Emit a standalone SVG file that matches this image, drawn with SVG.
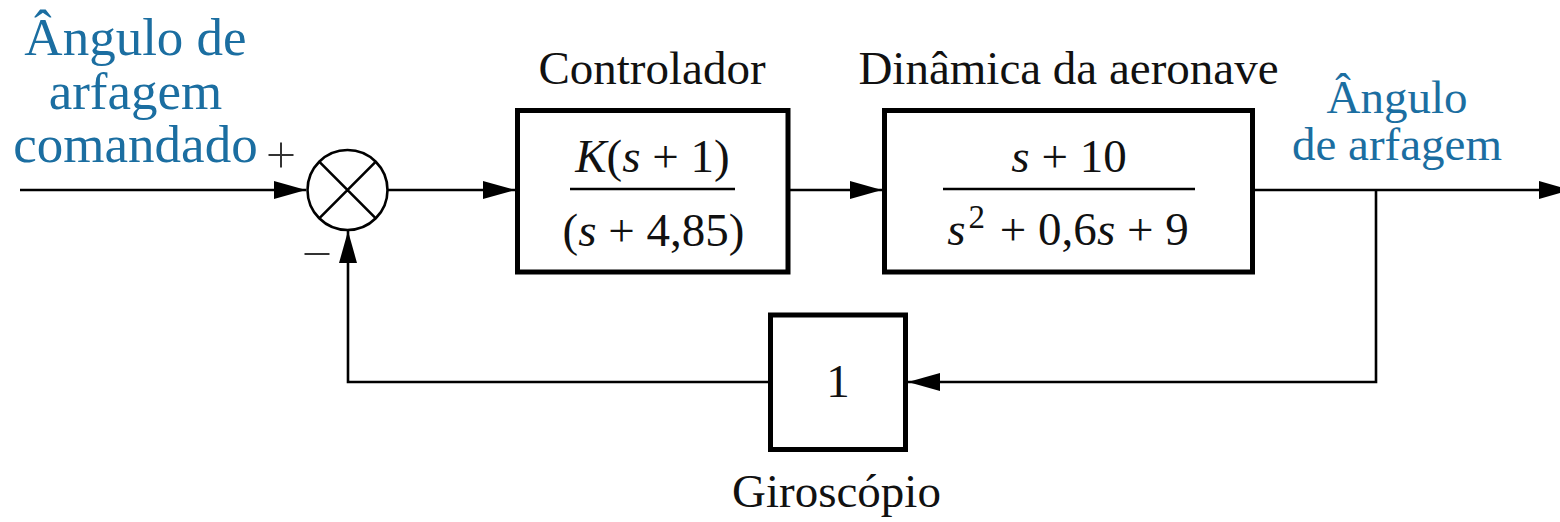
<svg xmlns="http://www.w3.org/2000/svg" width="1560" height="522" viewBox="0 0 1560 522">
<style>
.box{fill:#fff;stroke:#000;stroke-width:5}
.ln{fill:none;stroke:#000;stroke-width:2.6}
.t{font-family:"Liberation Serif","Times New Roman",serif;fill:#111;font-size:47px}
.blue{font-family:"Liberation Serif","Times New Roman",serif;fill:#1b6ea1}
.m{font-family:"Liberation Serif","Times New Roman",serif;fill:#111;font-size:47px}
.i{font-style:italic}
</style>
<defs>
<marker id="ah" viewBox="0 0 32 18" refX="32" refY="9" markerWidth="32" markerHeight="18" markerUnits="userSpaceOnUse" orient="auto">
<path d="M0,0 L32,9 L0,18 z" fill="#000"/>
</marker>
</defs>
<rect width="1560" height="522" fill="#fff"/>

<g id="connectors">
<path class="ln" d="M20,190 H306" marker-end="url(#ah)"/>
<path class="ln" d="M387.5,190 H515" marker-end="url(#ah)"/>
<path class="ln" d="M788,190 H882" marker-end="url(#ah)"/>
<path class="ln" d="M1252.5,190 H1571" marker-end="url(#ah)"/>
<path class="ln" d="M1376,190 V382 H908" marker-end="url(#ah)"/>
<path class="ln" d="M770.5,382 H348 V231" marker-end="url(#ah)"/>
</g>

<g id="input-label">
<text class="blue" font-size="53" text-anchor="middle" x="135.5" y="55">Ângulo de</text>
<text class="blue" font-size="53" text-anchor="middle" x="135.5" y="108.5">arfagem</text>
<text class="blue" font-size="53" text-anchor="middle" x="135.5" y="162">comandado</text>
</g>

<g id="sum">
<circle cx="347.5" cy="190" r="40" fill="#fff" stroke="#000" stroke-width="2.6"/>
<path class="ln" d="M319.2,161.7 L375.8,218.3 M375.8,161.7 L319.2,218.3"/>
<path d="M268.5,155 H293.5 M281,142.5 V167.5" stroke="#333" stroke-width="2" fill="none"/>
<path d="M304.5,254 H329.5" stroke="#333" stroke-width="2" fill="none"/>
</g>

<g id="controlador">
<text class="t" text-anchor="middle" x="652" y="84">Controlador</text>
<rect class="box" x="517.5" y="110.5" width="270.5" height="161.5"/>
<line x1="570" y1="189" x2="735" y2="189" stroke="#000" stroke-width="2.6"/>
<text class="m" text-anchor="middle" x="652.5" y="172"><tspan class="i">K</tspan>(<tspan class="i">s</tspan> + 1)</text>
<text class="m" text-anchor="middle" x="653.5" y="246">(<tspan class="i">s</tspan> + 4,85)</text>
</g>

<g id="dinamica">
<text class="t" text-anchor="middle" x="1068.5" y="84">Dinâmica da aeronave</text>
<rect class="box" x="884.5" y="110.5" width="368" height="161.5"/>
<line x1="943" y1="189" x2="1195" y2="189" stroke="#000" stroke-width="2.6"/>
<text class="m" text-anchor="middle" x="1069" y="172"><tspan class="i">s</tspan> + 10</text>
<text class="m" text-anchor="middle" x="1068" y="245"><tspan class="i">s</tspan><tspan font-size="33" dy="-17" dx="3">2</tspan><tspan dy="17" dx="3"> + 0,6</tspan><tspan class="i">s</tspan> + 9</text>
</g>

<g id="output-label">
<text class="blue" font-size="47" text-anchor="middle" x="1397" y="113">Ângulo</text>
<text class="blue" font-size="47" text-anchor="middle" x="1397" y="160">de arfagem</text>
</g>

<g id="giroscopio">
<rect class="box" x="770.5" y="315" width="135" height="134.5"/>
<text class="m" text-anchor="middle" x="838" y="397">1</text>
<text class="t" text-anchor="middle" x="836.5" y="507">Giroscópio</text>
</g>
</svg>
